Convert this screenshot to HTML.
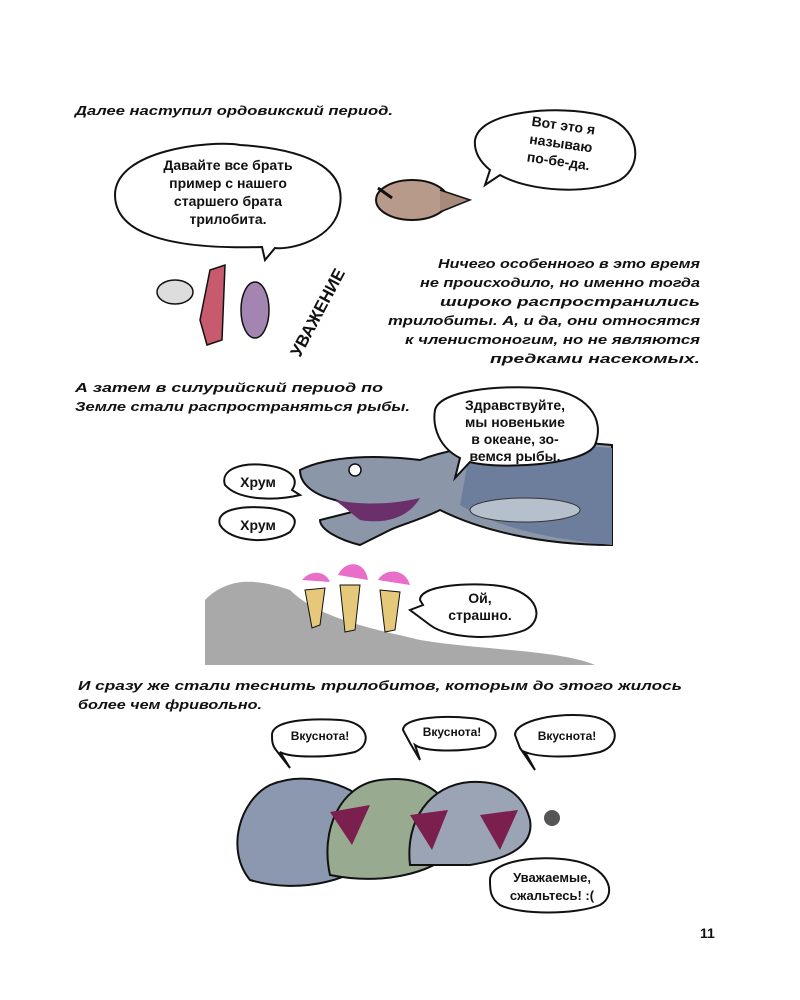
<!DOCTYPE html>
<html><head><meta charset="utf-8"><style>
html,body{margin:0;padding:0;background:#fff}
svg{display:block}
text{font-family:"Liberation Sans","DejaVu Sans",sans-serif;font-weight:bold;fill:#111}
.n{font-size:13px;font-style:italic}
.b{font-size:14px}
</style></head><body>
<svg width="800" height="1000" viewBox="0 0 800 1000" xmlns="http://www.w3.org/2000/svg">
<rect width="800" height="1000" fill="#fff"/>
<!-- trilobite top -->
<ellipse cx="412" cy="200" rx="36" ry="20" fill="#b89a8a" stroke="#111" stroke-width="2"/>
<path d="M440,190 L470,200 L440,212" fill="#a88a7a" stroke="#111" stroke-width="1.5"/>
<path d="M378,188 L392,198" stroke="#111" stroke-width="3"/>
<!-- small creatures -->
<path d="M210,270 L225,265 L222,340 L207,345 L200,320Z" fill="#c85a6e" stroke="#111" stroke-width="1.5"/>
<ellipse cx="175" cy="292" rx="18" ry="12" fill="#ddd" stroke="#111" stroke-width="1.5"/>
<ellipse cx="255" cy="310" rx="14" ry="28" fill="#a484b0" stroke="#111" stroke-width="1.5"/>
<text x="300" y="358" transform="rotate(-62 300 358)" style="font-size:17px">УВАЖЕНИЕ</text>
<!-- fish 1 -->
<path d="M300,470 C330,455 380,455 420,460 C470,440 560,440 612,445 L612,545 C540,545 480,530 440,510 C420,520 400,525 390,530 L360,545 C340,540 320,530 320,520 L360,510 L335,500 C315,495 300,485 300,470Z" fill="#8b96a8" stroke="#111" stroke-width="2"/>
<path d="M470,450 C530,445 580,445 612,448 L612,545 C560,540 500,530 460,505Z" fill="#6d7d9c"/>
<ellipse cx="525" cy="510" rx="55" ry="12" fill="#b6bfcc" stroke="#333"/>
<path d="M335,500 C360,505 390,505 420,498 C410,515 390,525 360,520Z" fill="#6b2f6b"/>
<circle cx="355" cy="470" r="6" fill="#fff" stroke="#111" stroke-width="1.5"/>
<!-- ground -->
<path d="M205,600 C230,575 260,580 290,590 C320,620 380,630 420,640 C480,650 560,650 595,665 L205,665Z" fill="#a9a9a9"/>
<path d="M305,590 L325,588 L320,625 L312,628Z M340,585 L360,585 L355,630 L345,632Z M380,590 L400,592 L395,630 L385,632Z" fill="#e6c87a" stroke="#111" stroke-width="1"/>
<path d="M302,580 C310,570 325,570 330,582Z M338,575 C345,560 365,560 368,580Z M378,580 C385,568 405,568 410,585Z" fill="#e86ec8"/>
<!-- fish group -->
<path d="M250,880 C225,850 240,800 270,785 C300,772 340,780 365,800 L380,850 C360,880 300,895 250,880Z" fill="#8c98b0" stroke="#111" stroke-width="2"/>
<path d="M330,875 C320,830 340,785 380,780 C420,775 440,790 450,810 L455,850 C430,875 380,885 330,875Z" fill="#98aa90" stroke="#111" stroke-width="2"/>
<path d="M410,865 C405,820 430,785 470,782 C510,780 525,800 530,820 C535,850 500,860 470,865Z" fill="#9aa4b4" stroke="#111" stroke-width="2"/>
<path d="M330,812 L370,805 L352,845Z M410,815 L448,810 L432,850Z M480,815 L518,810 L500,850Z" fill="#7a1f4e"/>
<circle cx="552" cy="818" r="8" fill="#555"/>
<g stroke="#111" stroke-width="2" fill="#fff">
<path d="M115,195 C115,150 210,140 240,145 C320,150 345,175 340,205 C335,240 290,250 275,248 L265,260 L262,247 C160,250 115,230 115,195Z"/>
<path d="M475,140 C480,110 560,105 600,115 C640,125 645,165 620,180 C590,195 530,192 500,175 L485,185 L490,170 C478,160 474,150 475,140Z"/>
<path d="M435,410 C440,390 500,385 540,388 C590,392 605,420 595,445 C585,465 500,470 470,462 L455,478 L460,458 C440,448 432,428 435,410Z"/>
<path d="M225,485 C220,470 240,462 265,465 C290,468 300,478 292,490 L300,495 C280,500 240,502 225,485Z"/>
<path d="M220,525 C215,510 240,505 270,508 C295,512 300,520 290,532 C270,545 230,542 220,525Z"/>
<path d="M420,600 C420,585 470,582 500,586 C540,592 545,620 525,630 C500,640 450,640 430,625 L410,610 L423,605Z"/>
<path d="M272,735 C272,720 310,718 340,720 C370,722 372,745 355,752 C330,758 290,758 280,752 L290,768 L276,750 C272,745 272,740 272,735Z"/>
<path d="M403,730 C403,718 440,715 470,718 C500,720 502,740 485,747 C460,752 425,752 415,745 L420,760 L410,743Z"/>
<path d="M515,735 C515,720 560,712 590,716 C620,720 622,745 600,752 C575,758 540,758 525,752 L535,770 L520,748Z"/>
<path d="M490,880 C490,860 540,855 570,860 C610,866 618,895 600,905 C575,915 520,915 500,905 C490,898 490,890 490,880Z"/>
</g>
<!-- texts -->
<text class="n" x="75" y="115" textLength="318" lengthAdjust="spacingAndGlyphs">Далее наступил ордовикский период.</text>
<g class="b" text-anchor="middle">
<text x="228" y="170">Давайте все брать</text>
<text x="228" y="188">пример с нашего</text>
<text x="228" y="206">старшего брата</text>
<text x="228" y="224">трилобита.</text>
<text x="560" y="130" transform="rotate(8 560 150)">Вот это я</text>
<text x="560" y="148" transform="rotate(8 560 150)">называю</text>
<text x="560" y="166" transform="rotate(8 560 150)">по-бе-да.</text>
<text x="515" y="410">Здравствуйте,</text>
<text x="515" y="427">мы новенькие</text>
<text x="515" y="444">в океане, зо-</text>
<text x="515" y="461">вемся рыбы.</text>
<text x="258" y="487">Хрум</text>
<text x="258" y="530">Хрум</text>
<text x="480" y="603">Ой,</text>
<text x="480" y="620">страшно.</text>
<text x="320" y="740" style="font-size:12px">Вкуснота!</text>
<text x="452" y="736" style="font-size:12px">Вкуснота!</text>
<text x="567" y="740" style="font-size:12px">Вкуснота!</text>
<text x="552" y="882" style="font-size:13px">Уважаемые,</text>
<text x="552" y="900" style="font-size:13px">сжальтесь! :(</text>
</g>
<g class="n">
<text x="438" y="268" textLength="262" lengthAdjust="spacingAndGlyphs">Ничего особенного в это время</text>
<text x="420" y="287" textLength="280" lengthAdjust="spacingAndGlyphs">не происходило, но именно тогда</text>
<text x="440" y="306" textLength="260" lengthAdjust="spacingAndGlyphs">широко распространились</text>
<text x="388" y="325" textLength="312" lengthAdjust="spacingAndGlyphs">трилобиты. А, и да, они относятся</text>
<text x="405" y="344" textLength="295" lengthAdjust="spacingAndGlyphs">к членистоногим, но не являются</text>
<text x="490" y="363" textLength="210" lengthAdjust="spacingAndGlyphs">предками насекомых.</text>
</g>
<text class="n" x="75" y="392" textLength="308" lengthAdjust="spacingAndGlyphs">А затем в силурийский период по</text>
<text class="n" x="75" y="411" textLength="335" lengthAdjust="spacingAndGlyphs">Земле стали распространяться рыбы.</text>
<text class="n" x="78" y="690" textLength="604" lengthAdjust="spacingAndGlyphs">И сразу же стали теснить трилобитов, которым до этого жилось</text>
<text class="n" x="78" y="709" textLength="184" lengthAdjust="spacingAndGlyphs">более чем фривольно.</text>
<text x="700" y="938" style="font-size:14px">11</text>
</svg>
</body></html>
